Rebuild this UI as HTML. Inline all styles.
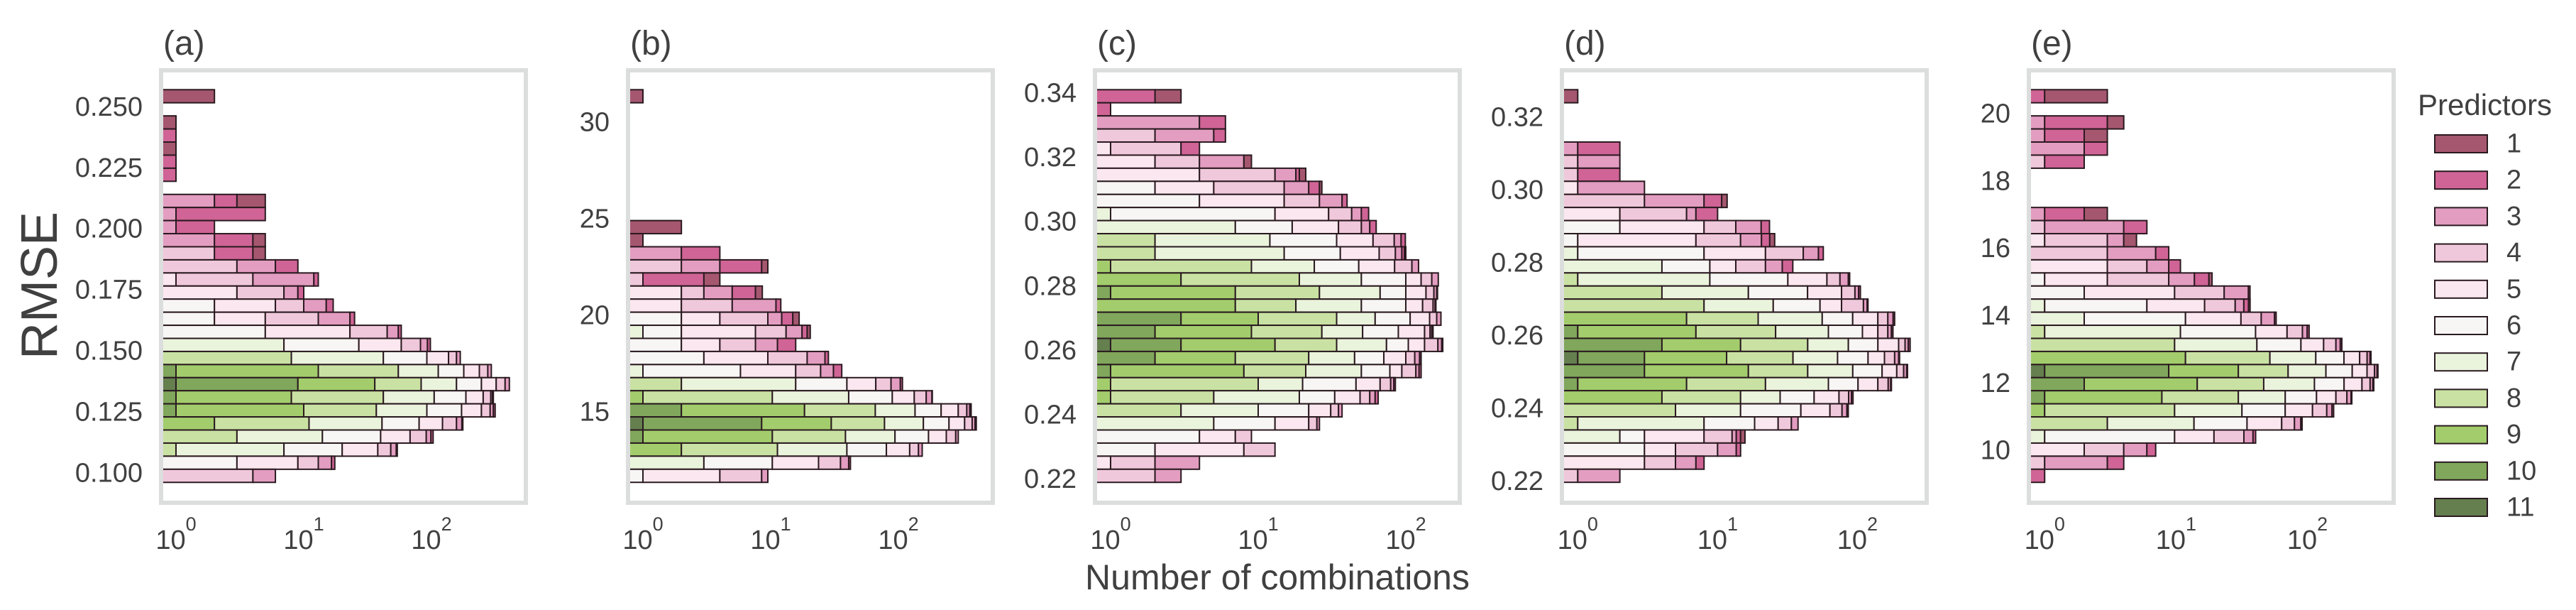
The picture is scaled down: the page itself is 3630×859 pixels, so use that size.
<!DOCTYPE html>
<html><head><meta charset="utf-8"><style>
html,body{margin:0;padding:0;background:#fff;}
svg{display:block;font-family:"Liberation Sans",Arial,sans-serif;}
</style></head><body>
<svg id="fig" width="3630" height="859" viewBox="0 0 3630 859" xmlns="http://www.w3.org/2000/svg">
<text x="56" y="402" font-size="72" fill="#404040" text-anchor="middle" dominant-baseline="central" transform="rotate(-90 56 402)">RMSE</text>
<text x="1800" y="830" font-size="50" fill="#404040" text-anchor="middle">Number of combinations</text>
<g id="legend">
<text x="3407" y="162" font-size="42" fill="#404040">Predictors</text>
</g>
</svg>
<script>
// ---- data: counts per RMSE bin (top row first), keyed by number of predictors ----
const predictors = [1,2,3,4,5,6,7,8,9,10,11];
const predictorColors = ['#a5576f','#d06496','#e39dc1','#f0c8db','#fbe7ef','#f7f6f4','#eaf4dc','#c9e2a3','#a3cd6c','#80a75c','#657f4f'];

const countsA = [
{1:2},{},{1:1},{2:1},{1:1},{2:1},{2:1},{},
{3:2,2:1,1:2},{3:1,2:4},{3:1,2:1},{3:2,2:2,1:1},{4:2,2:2,1:1},{4:3,3:3,2:3},
{5:1,4:3,3:8,2:1},{5:3,4:4,3:2,2:1},{6:2,5:4,4:4,3:5,2:2},{6:2,5:3,4:8,3:10,2:2},
{6:5,5:18,4:22,3:10,2:3},{7:7,6:20,5:31,4:24,3:11,2:5},{8:8,7:34,6:50,5:44,4:21,3:11},
{10:1,9:12,8:42,7:58,6:66,5:58,4:39,3:18},{11:1,10:8,9:27,8:47,7:74,6:89,5:75,4:56,3:30},
{10:1,9:7,8:34,7:63,6:81,5:68,4:37,3:9,2:5},{10:1,9:9,8:27,7:55,6:80,5:74,4:42,3:17,2:10},
{9:2,8:9,7:30,6:39,5:42,4:35,3:16,2:3},{8:3,7:11,6:26,5:28,4:23,3:8,2:4},
{8:1,7:6,6:13,5:18,4:10,3:5,2:1},{6:3,5:6,4:4,3:3.5,2:1},{4:4,3:2}
];
const countsB = [
{1:1},{},{},{},{},{},{},{},{},{},
{1:2},{1:1},{3:2,2:2},{4:2,3:2,2:4.5,1:1},{4:1,2:2,1:1},{5:2,4:1,3:2,2:2.6,1:1},
{5:2,4:3,3:6,2:1},{6:2,5:2,4:5.5,3:2.7,2:2.7,1:1.8},{7:1,6:1,5:5.6,4:5.6,3:4.4,2:1.7,1:1.1},
{6:2,5:2,4:3.6,3:3.7,2:4.4},{6:3,5:6.5,4:9.8,3:7.3,2:1.7},{7:1,6:4.8,5:9.9,4:8.9,3:6.4,2:5},
{8:2,7:13.7,6:23.8,5:27,4:21,3:16,2:4},{9:1,8:9.3,7:30.5,6:48.7,5:43.5,4:32,3:18,2:1},
{10:2,9:16.4,8:47.5,7:69,6:81,5:78,4:49,3:19,2:9},{11:1,10:7.5,9:21.3,8:48,7:79,6:92,5:81,4:48,3:20,2:9},
{10:1,9:9.3,8:28.2,7:55.5,6:78,5:65,4:44,3:13},{9:2,8:9.3,7:28.2,6:41,5:42,4:21,3:10},
{7:3,6:7.3,5:13.4,4:11.5,3:5.6,2:1.3},{6:1,5:3,4:4.5,3:1}
];
const countsC = [
{2:2,1:1},{2:1},{3:4,2:2},{4:2,3:3,2:1},{5:1,4:2,2:1},{5:2,4:2,3:4,1:1},
{5:4,4:9,3:5,2:1,1:2},{6:2,5:3,4:10,3:7,2:4,1:1},{6:4,5:11,4:11,3:11,2:3},
{7:1,6:12,5:17,4:13,3:7,2:6},{7:7,6:10,5:18,4:15,3:7,2:6},
{8:2,7:10,6:22,5:26,4:23.5,3:9.4,2:6.4},{8:2,7:13,6:21,5:30,4:19,3:9,2:4,1:2},
{9:1,8:8,7:15,6:24,5:36,4:26,3:12},{9:3,8:16,7:31,6:50,5:27,4:23,3:16},
{10:1,9:6,8:19,7:41,6:33,5:37,4:18,3:7,2:2},{9:7,8:11,7:32,6:50,5:30,4:23,3:5,2:2},
{10:3,9:7,8:24,7:28,6:45,5:38,4:17,3:11},{10:2,9:7,8:18,7:24,6:38,5:45,4:12,3:4,2:3},
{11:1,10:2,9:10,8:21,7:40,6:30,5:30,4:31,3:10,2:3},{10:2,9:5,8:15,7:23,6:26,5:29,4:15,3:9,2:3},
{10:1,9:7,8:13,7:29,6:28,5:16,4:23,3:6,2:4},{9:1,8:9,7:10,6:26,5:21,4:12,3:4,2:2},
{9:1,8:4,7:14,6:14,5:16,4:8,3:5,2:3},{8:3,7:7,6:12,5:9,4:4,3:2},{7:5,6:8,5:9,4:3,3:1},
{6:4,5:3,4:2},{6:2,5:6,4:5},{5:1,4:1,3:2},{4:2,3:1}
];
const countsD = [
{1:1},{},{},{},{3:1,2:1},{4:1,3:1},{4:1,2:1},{5:1,3:2},
{4:3,3:5,2:2.7,1:1},{5:2,4:4,3:1,2:3},{6:2,5:6,4:5.5,3:7,2:3},{6:1,5:6,4:7.6,3:6,2:3,1:2},
{7:1,6:7,5:14,4:19,3:11.6,2:4.4},{7:4,6:4.8,5:4.7,4:8.5,3:7,2:5.5},
{8:1,7:7.8,6:23,5:28.7,4:14.5,3:11,2:2},{8:4,7:12.6,6:27.4,5:33,4:19,3:6,2:3},
{8:8,7:17,6:29,5:23,4:33.4,3:7,2:1.6},{9:6,8:13.5,7:36.5,6:36.5,5:47.5,4:25,3:15,2:4.5},
{10:1,9:6,8:19,7:36,6:46.6,5:31.4,4:25,3:10,2:4.5},{10:4,9:10.6,8:29.5,7:42,6:54,5:57,4:22,3:12,2:7},
{11:1,10:2,9:8.6,8:23,7:37.5,6:47,5:37,4:28.5,3:12.5,2:3},{10:3,9:13.6,8:27.5,7:48.5,6:57.5,5:41,4:23,3:11,2:3},
{10:1,9:5,8:16,7:40,6:39,5:39,4:26,3:7,2:2},{9:4,8:10.6,7:13.4,6:21,5:24.8,4:12.7,3:4.2,2:2.3},
{8:5,7:9.6,6:24.8,5:24.2,4:14,3:6.4,2:2},{8:1,7:7,6:10.4,5:8.7,4:6.6,3:3.9},
{7:2,6:1,5:5,4:4.7,3:0.9,2:1,1:1.1},{6:3,5:2,4:5,3:3.6,2:1},{5:3,4:2,3:2,2:1},{4:1,3:1}
];
const countsE = [
{2:1,1:2},{},{3:1,2:2,1:1},{3:1,2:1,1:1},{3:2,2:1},{4:1,2:1},{},{},{},
{3:1,2:1,1:1},{4:1,3:3,2:2},{5:1,4:2,3:1,1:1},{4:3,3:4,2:1.8},{5:3,4:3,3:2.8,2:2},
{6:1,5:2,4:5.8,3:5,2:4,1:1},{6:2,5:7.75,4:13.5,3:12.3,2:1},{7:1,6:5,5:10.5,4:11.7,3:4.6,2:2.8,1:1},
{7:2,6:9.8,5:19.4,4:13.3,3:11.7,2:1.6},{8:1,7:9.8,6:29.5,5:29.7,4:21.6,3:8,2:3.4},
{8:9.75,7:31.5,6:48,5:43.6,4:32,3:13,2:5},{9:11.8,8:40,7:64,6:74,5:60,4:35,3:15,2:5},
{11:1,10:7.8,9:21,8:41.5,7:67,6:81,5:65,4:40,3:15,2:5},{10:2,9:12.5,8:32,7:66.6,6:77,5:70,4:40,3:15,2:5},
{10:1,9:6.8,8:22,7:38,6:49.5,5:47.5,4:35,3:15,2:3},{9:1,8:8.75,7:22,6:36,5:41.6,4:31,3:13.5,2:4.5},
{8:3,7:10.7,6:21,5:29,4:16,3:9.4,2:2},{7:1,6:8.75,5:9.7,4:13.4,3:5.7,2:1.8},
{5:2,4:2,3:2,2:1},{4:1,3:2,2:1},{2:1}
];

const panelLetters = ['(a)','(b)','(c)','(d)','(e)'];
const yTicksA = [0.100,0.125,0.150,0.175,0.200,0.225,0.250];
const yTicksB = [15,20,25,30];
const yTicksC = [0.22,0.24,0.26,0.28,0.30,0.32,0.34];
const yTicksD = [0.22,0.24,0.26,0.28,0.30,0.32];
const yTicksE = [10,12,14,16,18,20];
const xTickExponents = [0,1,2];

// ---- layout / axis configuration ----
const panels = [
 {L:224,  counts:countsA, ticks:yTicksA, dec:3, top:0.25716, bw:0.005364, ylo:0.08875, yhi:0.26423, xlo:-0.1,   xhi:2.722},
 {L:882,  counts:countsB, ticks:yTicksB, dec:0, top:31.707,  bw:0.6781,   ylo:10.416,  yhi:32.601,  xlo:-0.1,   xhi:2.722},
 {L:1540, counts:countsC, ticks:yTicksC, dec:2, top:0.34117, bw:0.004071, ylo:0.21335, yhi:0.34654, xlo:-0.0913,xhi:2.351},
 {L:2198, counts:countsD, ticks:yTicksD, dec:2, top:0.32765, bw:0.003596, ylo:0.21473, yhi:0.33239, xlo:-0.098, xhi:2.48},
 {L:2856, counts:countsE, ticks:yTicksE, dec:0, top:20.719,  bw:0.3886,   ylo:8.518,   yhi:21.231,  xlo:-0.104, xhi:2.64}
];
const NS = 'http://www.w3.org/2000/svg';
const svg = document.getElementById('fig');
const PT = 102, PB = 705, PH = PB - PT, PW = 508;
function mk(tag, attrs, parent){const e=document.createElementNS(NS,tag);for(const k in attrs)e.setAttribute(k,attrs[k]);(parent||svg).appendChild(e);return e;}

panels.forEach((p, pi) => {
  const g = mk('g', {});
  
  
  const x0 = p.L + 6;
  const xs = v => v <= 0 ? x0 - 3 : x0 + (Math.log10(v) - p.xlo) / (p.xhi - p.xlo) * PW;
  const ys = v => PT + (p.yhi - v) / (p.yhi - p.ylo) * PH;
  const cid = 'clip' + pi;
  const cp = mk('clipPath', {id: cid}, g);
  mk('rect', {x: x0, y: PT, width: PW, height: PH}, cp);
  const bars = mk('g', {'clip-path': 'url(#' + cid + ')'}, g);
  
  
  p.counts.forEach((row, k) => {
    const yt = ys(p.top - k * p.bw), yb = ys(p.top - (k + 1) * p.bw);
    let cum = 0;
    for (let n = 11; n >= 1; n--) {
      const c = row[n] || 0;
      if (!c) continue;
      const a = xs(cum), b = xs(cum + c);
      cum += c;
      const r = mk('rect', {x: a, y: yt, width: Math.max(b - a, 0.5), height: yb - yt, fill: predictorColors[n - 1], stroke: '#2a1a20', 'stroke-width': 2}, bars);
      
      
    }
  });
  const fr = mk('rect', {x: p.L + 3, y: 99, width: 514, height: 609, fill: 'none', stroke: '#dcdddd', 'stroke-width': 6}, g);
  
  
  const t = mk('text', {x: p.L + 6, y: 77, 'font-size': 48, fill: '#404040'}, g);
  t.textContent = panelLetters[pi];
  
  
  p.ticks.forEach(v => {
    const tl = mk('text', {x: p.L - 23, y: ys(v), 'font-size': 38, fill: '#404040', 'text-anchor': 'end', 'dominant-baseline': 'central'}, g);
    tl.textContent = v.toFixed(p.dec);
    
    
  });
  xTickExponents.forEach(e => {
    const xl = mk('text', {x: xs(Math.pow(10, e)), y: 773, 'font-size': 38, fill: '#404040', 'text-anchor': 'middle'}, g);
    xl.textContent = '10';
    const sup = mk('tspan', {dy: -26, 'font-size': 27}, xl);
    sup.textContent = String(e);
    
    
  });
});

const leg = document.getElementById('legend');
predictors.forEach((n, i) => {
  const y = 190 + 51.2 * i;
  const r = mk('rect', {x: 3431, y: y, width: 74, height: 25, fill: predictorColors[i], stroke: '#2a1a20', 'stroke-width': 2}, leg);
  
  
  const t = mk('text', {x: 3532, y: y + 12.5, 'font-size': 38, fill: '#404040', 'dominant-baseline': 'central'}, leg);
  t.textContent = String(n);
  
  
});
</script>
</body></html>
